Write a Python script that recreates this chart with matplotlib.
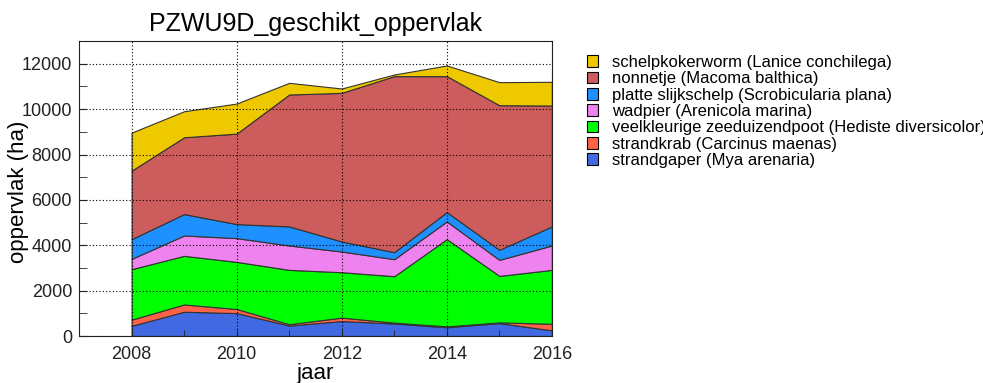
import numpy as np
import matplotlib
matplotlib.use("Agg")
import matplotlib.pyplot as plt
from matplotlib.patches import Patch
from matplotlib.ticker import MultipleLocator

plt.rcParams['font.family'] = ['Liberation Sans', 'DejaVu Sans']

# 年份与各物种适宜面积 (ha)，自下而上堆叠
years = [2008, 2009, 2010, 2011, 2012, 2013, 2014, 2015, 2016]
strandgaper = [450, 1070, 1010, 460, 660, 550, 385, 570, 250]
strandkrab = [270, 320, 180, 60, 150, 40, 40, 30, 290]
zeeduizendpoot = [2226, 2143, 2078, 2395, 2002, 2046, 3845, 2050, 2375]
wadpier = [454, 897, 1046, 1075, 912, 751, 780, 707, 1075]
slijkschelp = [870, 944, 619, 840, 442, 308, 412, 443, 840]
nonnetje = [3018, 3386, 3989, 5815, 6552, 7760, 5993, 6373, 5330]
schelpkokerworm = [1678, 1148, 1325, 515, 192, 73, 471, 1017, 1045]

labels = [
    'strandgaper (Mya arenaria)',
    'strandkrab (Carcinus maenas)',
    'veelkleurige zeeduizendpoot (Hediste diversicolor)',
    'wadpier (Arenicola marina)',
    'platte slijkschelp (Scrobicularia plana)',
    'nonnetje (Macoma balthica)',
    'schelpkokerworm (Lanice conchilega)',
]
colors = ['#4169E1', '#FF6347', '#00FF00', '#EE82EE', '#1E90FF', '#CD5C5C', '#EEC900']

fig = plt.figure(figsize=(9.83, 3.83), dpi=100)
ax = fig.add_axes([0.0804, 0.1227, 0.481, 0.770])

ax.stackplot(years, strandgaper, strandkrab, zeeduizendpoot, wadpier,
             slijkschelp, nonnetje, schelpkokerworm,
             colors=colors, edgecolor='#333333', linewidth=0.8)

ax.set_xlim(2007, 2016)
ax.set_ylim(0, 13000)
ax.xaxis.set_major_locator(MultipleLocator(2))
ax.xaxis.set_minor_locator(MultipleLocator(1))
ax.yaxis.set_major_locator(MultipleLocator(2000))
ax.yaxis.set_minor_locator(MultipleLocator(1000))
ax.tick_params(which='both', direction='in', labelsize=13, colors='#222222')
ax.tick_params(axis='x', which='both', length=4, pad=7)
ax.tick_params(axis='y', which='both', length=6, pad=5)

ax.set_axisbelow(False)
ax.grid(True, which='major', color='black', linestyle=(0, (1, 2)), linewidth=0.8)

for sp in ax.spines.values():
    sp.set_color('#222222')

ax.set_xlabel('jaar', fontsize=16, labelpad=0)
ax.set_ylabel('oppervlak (ha)', fontsize=16)
# y 轴标签贴近刻度数字放置
ax.yaxis.set_label_coords(-0.106, 0.488)
ax.set_title('PZWU9D_geschikt_oppervlak', fontsize=18, pad=7)

handles = [Patch(facecolor=c, edgecolor='black', linewidth=0.8) for c in colors]
fig.legend(handles[::-1], labels[::-1], loc='upper left',
           bbox_to_anchor=(0.59, 0.874), frameon=False, fontsize=12,
           handlelength=0.7, handleheight=0.7, handletextpad=0.8,
           labelspacing=0.08, borderaxespad=0)

fig.savefig('out.png', dpi=100)
